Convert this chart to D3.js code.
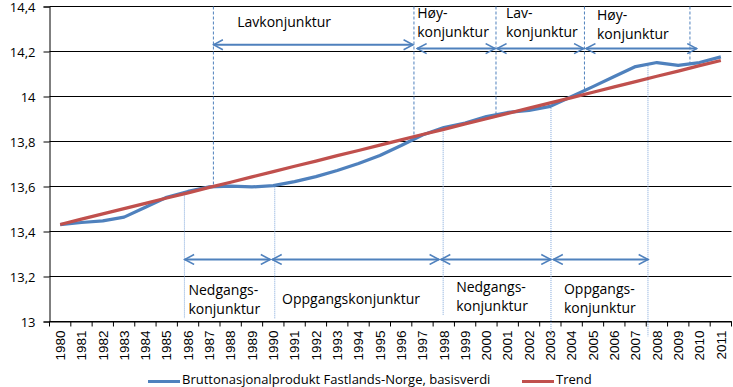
<!DOCTYPE html>
<html>
<head>
<meta charset="utf-8">
<script src="https://cdn.jsdelivr.net/npm/d3@7"></script>
<style>
  body { margin: 0; background: #fff; }
  svg { display: block; font-family: "Open Sans", sans-serif; }
</style>
</head>
<body>
<svg width="733" height="387"></svg>
<script>
const years = ["1980", "1981", "1982", "1983", "1984", "1985", "1986", "1987", "1988", "1989",
  "1990", "1991", "1992", "1993", "1994", "1995", "1996", "1997", "1998", "1999",
  "2000", "2001", "2002", "2003", "2004", "2005", "2006", "2007", "2008", "2009", "2010", "2011"];

// log BNP Fastlands-Norge
const bnp = [13.431, 13.440, 13.447, 13.464, 13.508, 13.552, 13.578, 13.598, 13.602, 13.598,
  13.604, 13.622, 13.644, 13.671, 13.702, 13.738, 13.782, 13.829, 13.862, 13.882,
  13.911, 13.929, 13.938, 13.956, 14.000, 14.044, 14.089, 14.133, 14.151, 14.138, 14.151, 14.176];

const trend = [13.431, 13.455, 13.478, 13.502, 13.525, 13.549, 13.572, 13.596, 13.619, 13.643,
  13.666, 13.690, 13.713, 13.737, 13.760, 13.784, 13.807, 13.831, 13.854, 13.878,
  13.901, 13.925, 13.948, 13.972, 13.995, 14.019, 14.043, 14.066, 14.090, 14.113, 14.137, 14.160];

const yTicks = [13, 13.2, 13.4, 13.6, 13.8, 14, 14.2, 14.4];

// konjunkturperioder (år, desimalt)
const topLines = [1987.19, 1996.6, 2000.45, 2004.6, 2009.55];
const topArrows = [[1987.19, 1996.56], [1996.75, 2000.41], [2000.5, 2004.56], [2004.67, 2009.87]];
const topArrowY = [14.23, 14.213, 14.213, 14.213];
const topLabels = [["Lavkonjunktur"], ["Høy-", "konjunktur"], ["Lav-", "konjunktur"], ["Høy-", "konjunktur"]];
const topLabelX = [1988.31, 1996.75, 2000.92, 2005.19];
const topLabelY = [14.311, 14.35, 14.348, 14.338];

const bottomLines = [1985.83, 1990.07, 1997.97, 2003.03, 2007.58];
const bottomLineEnd = [13.013, 13.013, 13.027, 12.929, 12.933];
const bottomArrows = [[1985.84, 1989.86], [1989.95, 1997.78], [1997.86, 2003.02], [2003.14, 2007.59]];
const bottomArrowY = 13.2756;
const bottomLabels = [["Nedgangs-", "konjunktur"], ["Oppgangskonjunktur"], ["Nedgangs-", "konjunktur"], ["Oppgangs-", "konjunktur"]];
const bottomLabelX = [1986.02, 1990.41, 1998.58, 2003.64];
const bottomLabelY = [13.1156, 13.0756, 13.130, 13.124];

const seriesNames = ["Bruttonasjonalprodukt Fastlands-Norge, basisverdi", "Trend"];
const colors = ["#4F81BD", "#C0504D"];

const svg = d3.select("svg");
const m = { left: 49.5, right: 731.5, top: 6.5, bottom: 321.5 };

const x = d3.scaleBand().domain(years).range([m.left, m.right]);
const bw = x.bandwidth();
const xYear = d3.scaleLinear()
  .domain([1980, 2011])
  .range([x("1980") + bw / 2, x("2011") + bw / 2]);
const y = d3.scaleLinear().domain([13, 14.4]).range([m.bottom, m.top]);

const no = d3.formatLocale({ decimal: ",", thousands: " ", grouping: [3], currency: ["", " kr"] });
const fmt = no.format(".1~f");

// gridlines
svg.append("g")
  .selectAll("line")
  .data(yTicks)
  .join("line")
  .attr("x1", m.left)
  .attr("x2", m.right)
  .attr("y1", d => y(d))
  .attr("y2", d => y(d))
  .attr("stroke", "#000")
  .attr("stroke-width", 1);

// y axis
const yAxis = svg.append("g")
  .attr("transform", `translate(${m.left},0)`)
  .call(d3.axisLeft(y).tickValues(yTicks).tickFormat(fmt).tickSize(6).tickPadding(8));
yAxis.selectAll("text")
  .attr("font-size", 13)
  .attr("font-family", "Open Sans")
  .attr("dy", "0.4em")
  .attr("fill", "#000");
yAxis.select(".domain").attr("stroke", "#000");

// x axis
const xAxis = svg.append("g")
  .attr("transform", `translate(0,${m.bottom})`)
  .call(d3.axisBottom(x).tickSize(0).tickFormat(""));
xAxis.select(".domain").attr("stroke", "#000");
xAxis.selectAll(".tick").remove();
xAxis.selectAll("line.bound")
  .data(years.concat(["end"]))
  .join("line")
  .attr("class", "bound")
  .attr("x1", (d, i) => m.left + i * bw)
  .attr("x2", (d, i) => m.left + i * bw)
  .attr("y1", 0)
  .attr("y2", 5)
  .attr("stroke", "#000");
xAxis.selectAll("text.yr")
  .data(years)
  .join("text")
  .attr("class", "yr")
  .attr("transform", d => `translate(${x(d) + bw / 2},${9}) rotate(-90)`)
  .attr("dy", "0.35em")
  .attr("text-anchor", "end")
  .attr("font-size", 13.5)
  .attr("fill", "#000")
  .text(d => d);

// interpolate bnp at a decimal year
const bnpAt = t => {
  const i = Math.min(Math.floor(t - 1980), bnp.length - 2);
  const f = t - 1980 - i;
  return bnp[i] + (bnp[i + 1] - bnp[i]) * f;
};

// dashed period lines
svg.append("g")
  .selectAll("line")
  .data(topLines)
  .join("line")
  .attr("x1", d => xYear(d))
  .attr("x2", d => xYear(d))
  .attr("y1", y(14.4))
  .attr("y2", d => y(bnpAt(d)))
  .attr("stroke", "#4F81BD")
  .attr("stroke-width", 1)
  .attr("stroke-dasharray", "3,2");

svg.append("g")
  .selectAll("line")
  .data(bottomLines)
  .join("line")
  .attr("x1", d => xYear(d))
  .attr("x2", d => xYear(d))
  .attr("y1", d => y(bnpAt(d)))
  .attr("y2", (d, i) => y(bottomLineEnd[i]))
  .attr("stroke", "#7FA6D9")
  .attr("stroke-width", 1)
  .attr("stroke-dasharray", "1,1");

// series
const line = d3.line()
  .x((d, i) => x(years[i]) + bw / 2)
  .y(d => y(d));

[bnp, trend].forEach((s, k) => {
  svg.append("path")
    .datum(s)
    .attr("d", line)
    .attr("fill", "none")
    .attr("stroke", colors[k])
    .attr("stroke-width", 3.25)
    .attr("stroke-linejoin", "round");
});

// arrows
svg.append("defs").append("marker")
  .attr("id", "head")
  .attr("markerUnits", "userSpaceOnUse")
  .attr("markerWidth", 12)
  .attr("markerHeight", 12)
  .attr("viewBox", "0 0 12 12")
  .attr("refX", 10.5)
  .attr("refY", 6)
  .attr("orient", "auto-start-reverse")
  .append("path")
  .attr("d", "M1,1 L10.5,6 L1,11")
  .attr("fill", "none")
  .attr("stroke", "#4F81BD")
  .attr("stroke-width", 1.5);

const arrow = (g, data, yv) => g.selectAll("line")
  .data(data)
  .join("line")
  .attr("x1", d => xYear(d[0]))
  .attr("x2", d => xYear(d[1]))
  .attr("y1", (d, i) => y(yv(i)))
  .attr("y2", (d, i) => y(yv(i)))
  .attr("stroke", "#4F81BD")
  .attr("stroke-width", 2)
  .attr("marker-start", "url(#head)")
  .attr("marker-end", "url(#head)");

arrow(svg.append("g"), topArrows, i => topArrowY[i]);
arrow(svg.append("g"), bottomArrows, () => bottomArrowY);

// labels
const labels = (lines, xs, ys) => {
  svg.append("g")
    .selectAll("text")
    .data(lines)
    .join("text")
    .attr("x", (d, i) => xYear(xs[i]))
    .attr("y", (d, i) => y(ys[i]))
    .attr("font-size", 14)
    .attr("fill", "#000")
    .selectAll("tspan")
    .data(d => d)
    .join("tspan")
    .attr("x", function () { return this.parentNode.getAttribute("x"); })
    .attr("dy", (d, j) => j === 0 ? 0 : 19)
    .text(d => d);
};
labels(topLabels, topLabelX, topLabelY);
labels(bottomLabels, bottomLabelX, bottomLabelY);

// legend
const legend = svg.append("g");
const legendX = [148, 522];
seriesNames.forEach((name, k) => {
  legend.append("line")
    .attr("x1", legendX[k])
    .attr("x2", legendX[k] + 32)
    .attr("y1", 381.5)
    .attr("y2", 381.5)
    .attr("stroke", colors[k])
    .attr("stroke-width", 3);
  legend.append("text")
    .attr("x", legendX[k] + 34)
    .attr("y", 384)
    .attr("font-size", 13)
    .attr("fill", "#000")
    .text(name);
});
</script>
</body>
</html>
